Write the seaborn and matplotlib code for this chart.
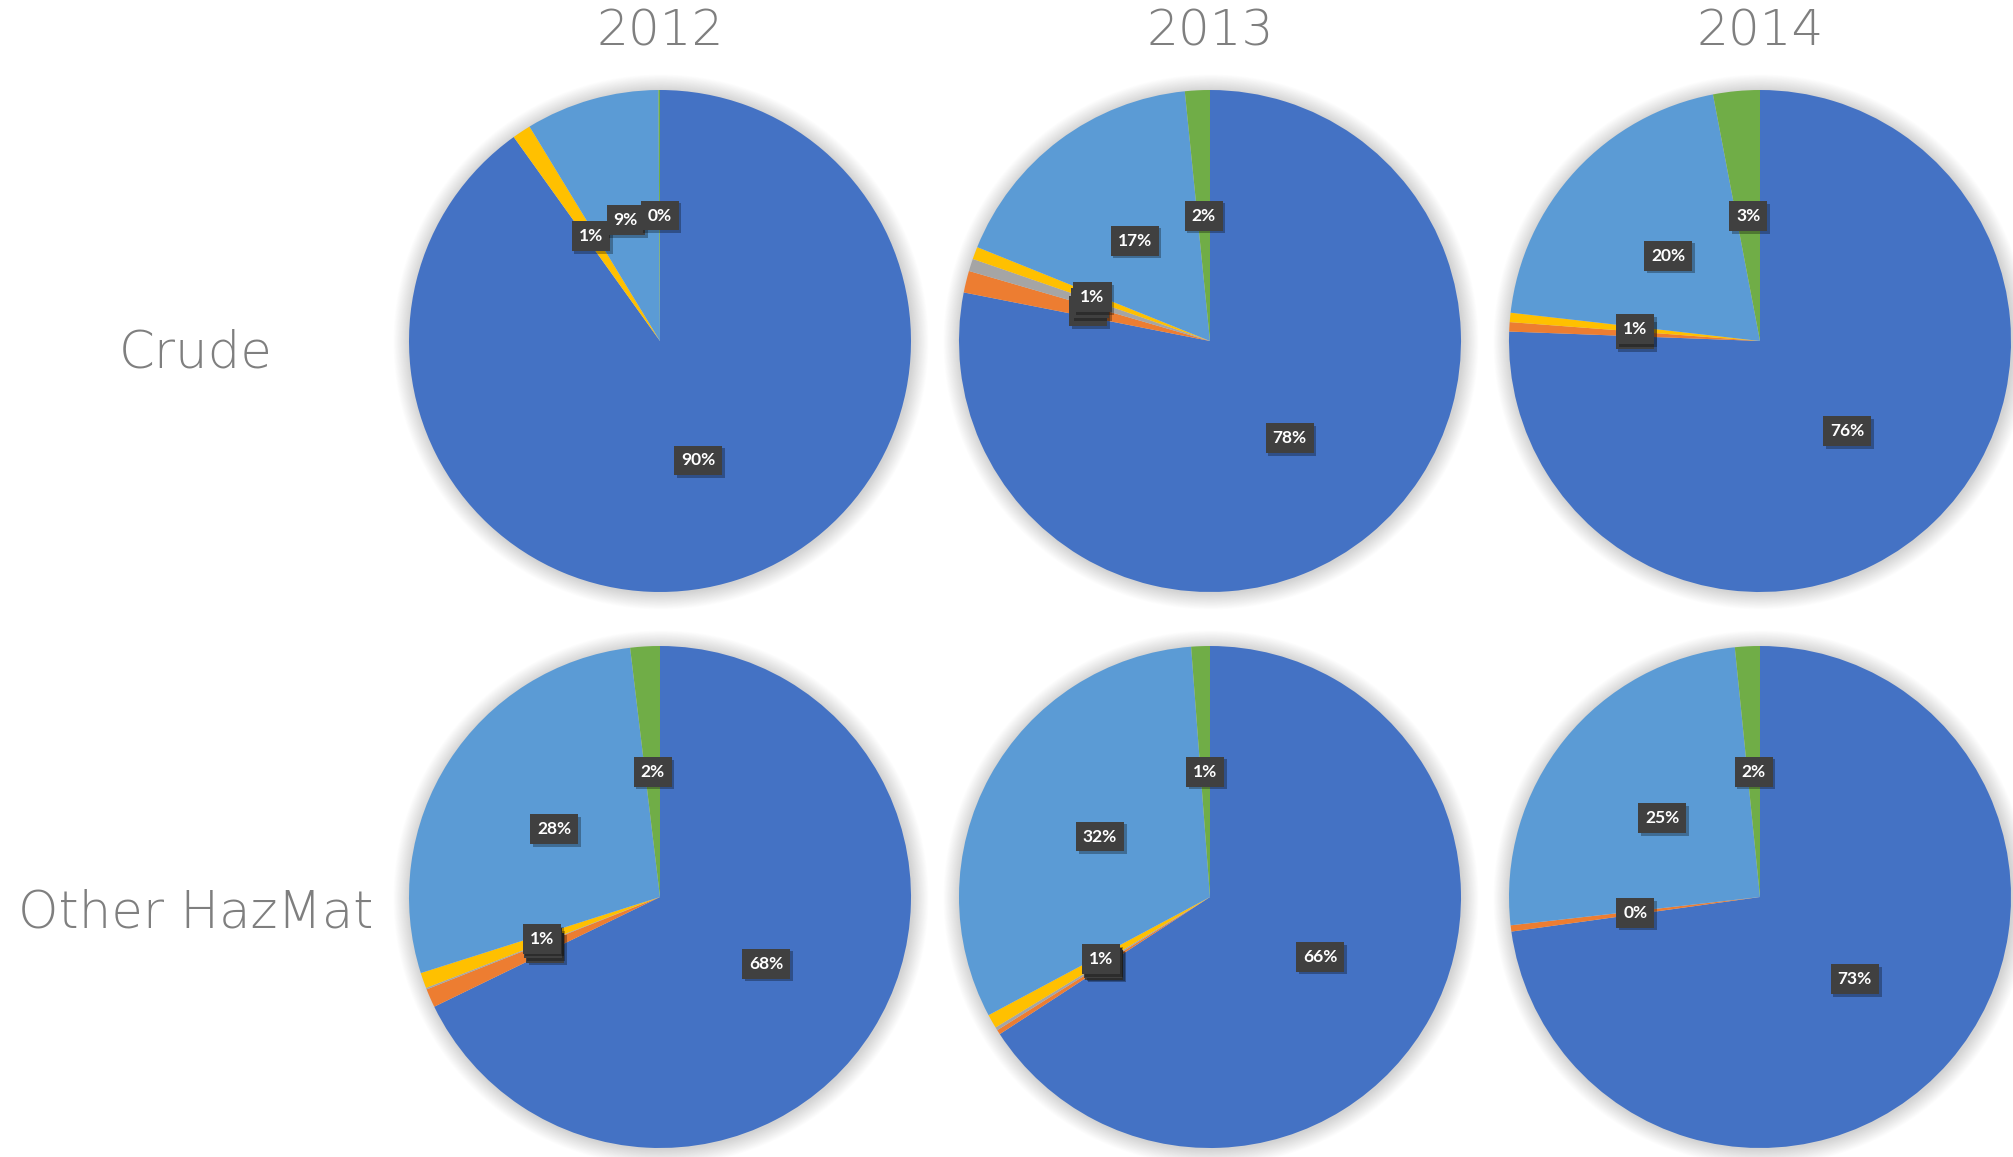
import numpy as np
import pandas as pd
import matplotlib
matplotlib.use("Agg")
import matplotlib.pyplot as plt
import seaborn as sns
from matplotlib import patheffects as pe
from matplotlib.patches import Circle

# ---------------- data ----------------
years = ["2012", "2013", "2014"]
row_labels = ["Crude", "Other HazMat"]
categories = ["Series 1", "Series 2", "Series 3", "Series 4", "Series 5", "Series 6"]

crude_2012 = [90.1, 0.0, 0.0, 1.2, 8.6, 0.1]
crude_2013 = [78.1, 1.4, 0.8, 0.8, 17.3, 1.6]
crude_2014 = [75.6, 0.6, 0.0, 0.6, 20.2, 3.0]
hazmat_2012 = [67.8, 1.2, 0.1, 1.0, 28.0, 1.9]
hazmat_2013 = [65.8, 0.3, 0.2, 0.9, 31.6, 1.2]
hazmat_2014 = [72.8, 0.4, 0.0, 0.0, 25.2, 1.6]

colors = ["#4472C4", "#ED7D31", "#A5A5A5", "#FFC000", "#5B9BD5", "#70AD47"]

records = []
for rl, series in zip(row_labels, [[crude_2012, crude_2013, crude_2014],
                                   [hazmat_2012, hazmat_2013, hazmat_2014]]):
    for yr, vals in zip(years, series):
        for c, v in zip(categories, vals):
            records.append({"row": rl, "year": yr, "category": c, "value": v})
df = pd.DataFrame(records)

# ---------------- style ----------------
sns.set_theme(style="white")
plt.rcParams["font.family"] = ["DejaVu Sans"]
palette = sns.color_palette(colors)

W, H = 2013, 1157
fig = plt.figure(figsize=(W / 100, H / 100), dpi=100)
fig.patch.set_facecolor("white")

centers_x = [660, 1210, 1760]
centers_y = [341, 897]
r_px = 251
pad = 1.12

def autopct_fmt(p):
    if p < 1e-9:
        return ""
    return f"{int(p + 0.5)}%"

for i, rl in enumerate(row_labels):
    for j, yr in enumerate(years):
        sub = df[(df["row"] == rl) & (df["year"] == yr)]
        cx, cy = centers_x[j], centers_y[i]
        half = r_px * pad
        ax = fig.add_axes([(cx - half) / W, (H - cy - half) / H, 2 * half / W, 2 * half / H])
        # soft glow/shadow behind the pie
        for k in range(22):
            rr = 1.0 + 0.003 * (k + 1)
            ax.add_patch(Circle((0.004, -0.004), rr, facecolor="#000000", edgecolor="none",
                                alpha=0.007, zorder=0))
        wedges, texts, autotexts = ax.pie(
            sub["value"].values, colors=palette, startangle=90, counterclock=False,
            radius=1.0, autopct=autopct_fmt, pctdistance=0.5,
            wedgeprops=dict(linewidth=0, edgecolor="none"), frame=False)
        for w in wedges:
            w.set_zorder(2)
        for t in autotexts:
            t.set_fontfamily("Lato")
            t.set_fontweight("bold")
            t.set_fontsize(12.5)
            t.set_color("white")
            t.set_zorder(5)
            if t.get_text():
                t.set_bbox(dict(boxstyle="square,pad=0.4", facecolor="#404040",
                                edgecolor="none"))
                t.get_bbox_patch().set_path_effects(
                    [pe.withSimplePatchShadow(offset=(2, -2), shadow_rgbFace="black", alpha=0.3)])
        ax.set_xlim(-pad, pad)
        ax.set_ylim(-pad, pad)
        ax.set_aspect("equal")
        ax.axis("off")

# column titles
for j, yr in enumerate(years):
    fig.text(centers_x[j] / W, 1 - 31 / H, yr, ha="center", va="center",
             fontsize=36, color="#7F7F7F", fontweight="light")

# row labels
for i, rl in enumerate(row_labels):
    y = [353, 913][i]
    fig.text(196 / W, 1 - y / H, rl, ha="center", va="center",
             fontsize=37, color="#7F7F7F", fontweight="light")

fig.savefig("out.png", dpi=100, facecolor="white")
